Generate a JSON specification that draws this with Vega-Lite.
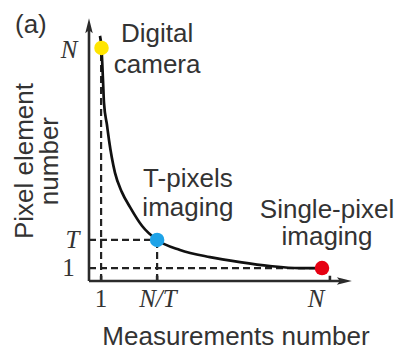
{
  "$schema": "https://vega.github.io/schema/vega-lite/v6.json",
  "width": 263,
  "height": 263,
  "autosize": {"type": "none"},
  "padding": {"left": 89, "top": 18, "right": 46, "bottom": 71},
  "background": "white",
  "config": {"view": {"stroke": null}},
  "datasets": {
    "curve": [
      {"x": 4.18, "y": 93.2}, {"x": 4.75, "y": 88.6}, {"x": 5.32, "y": 76.4},
      {"x": 5.7, "y": 67.7}, {"x": 6.84, "y": 59.3}, {"x": 7.6, "y": 53.6},
      {"x": 9.89, "y": 41.1}, {"x": 12.5, "y": 33.8}, {"x": 15.6, "y": 28.1},
      {"x": 20.2, "y": 20.9}, {"x": 25.9, "y": 15.6}, {"x": 34.6, "y": 11.8},
      {"x": 46.0, "y": 9.1}, {"x": 57.4, "y": 7.2}, {"x": 68.8, "y": 5.7},
      {"x": 80.2, "y": 4.9}, {"x": 88.6, "y": 4.9}
    ],
    "points": [
      {"name": "Digital camera", "x": 4.75, "y": 88.6},
      {"name": "T-pixels imaging", "x": 25.9, "y": 15.6},
      {"name": "Single-pixel imaging", "x": 88.6, "y": 4.9}
    ],
    "dashes": [
      {"x": 4.6, "y": 0, "x2": 4.6, "y2": 88.6},
      {"x": 0, "y": 15.6, "x2": 25.9, "y2": 15.6},
      {"x": 25.9, "y": 0, "x2": 25.9, "y2": 15.6},
      {"x": 0, "y": 4.9, "x2": 88.6, "y2": 4.9}
    ],
    "axes": [
      {"x": 0, "y": 0, "x2": 0, "y2": 96},
      {"x": 0, "y": 0, "x2": 96, "y2": 0},
      {"x": 4.6, "y": 0, "x2": 4.6, "y2": 2},
      {"x": 25.9, "y": 0, "x2": 25.9, "y2": 2},
      {"x": 91.6, "y": 0, "x2": 91.6, "y2": 2}
    ],
    "notes": [
      {"text": "Digital", "x": 25.9, "y": 90.9},
      {"text": "camera", "x": 25.9, "y": 79.1},
      {"text": "T-pixels", "x": 37.6, "y": 35.7},
      {"text": "imaging", "x": 37.6, "y": 24.7},
      {"text": "Single-pixel", "x": 90.5, "y": 24.0},
      {"text": "imaging", "x": 90.5, "y": 13.7},
      {"text": "(a)", "x": -22.1, "y": 94.3},
      {"text": "Measurements number", "x": 55.9, "y": -24.3}
    ],
    "ytitle": [
      {"text": "Pixel element", "x": -21.3, "y": 45.6},
      {"text": "number", "x": -11.8, "y": 45.6}
    ],
    "italic": [
      {"text": "N", "x": -7.6, "y": 87.8},
      {"text": "T", "x": -6.3, "y": 15.6},
      {"text": "N/T", "x": 26.2, "y": -6.8},
      {"text": "N", "x": 86.3, "y": -6.8}
    ],
    "ones": [
      {"text": "1", "x": -7.8, "y": 4.9},
      {"text": "1", "x": 4.6, "y": -6.8}
    ]
  },
  "layer": [
    {
      "data": {"name": "dashes"},
      "mark": {"type": "rule", "strokeDash": [7, 4], "strokeWidth": 2.2, "color": "#222222"},
      "encoding": {
        "x": {"field": "x", "type": "quantitative", "scale": {"domain": [0, 100]}, "axis": null},
        "y": {"field": "y", "type": "quantitative", "scale": {"domain": [0, 100]}, "axis": null},
        "x2": {"field": "x2"},
        "y2": {"field": "y2"}
      }
    },
    {
      "data": {"name": "axes"},
      "mark": {"type": "rule", "strokeWidth": 2.6, "color": "#2b2b2b"},
      "encoding": {
        "x": {"field": "x", "type": "quantitative", "scale": {"domain": [0, 100]}, "axis": null},
        "y": {"field": "y", "type": "quantitative", "scale": {"domain": [0, 100]}, "axis": null},
        "x2": {"field": "x2"},
        "y2": {"field": "y2"}
      }
    },
    {
      "data": {"values": [{"x": 0, "y": 97.1}]},
      "mark": {"type": "point", "shape": "M0,-1L0.5,1L0,0.6L-0.5,1Z", "size": 225, "filled": true, "color": "#2b2b2b", "opacity": 1},
      "encoding": {
        "x": {"field": "x", "type": "quantitative", "scale": {"domain": [0, 100]}, "axis": null},
        "y": {"field": "y", "type": "quantitative", "scale": {"domain": [0, 100]}, "axis": null}
      }
    },
    {
      "data": {"values": [{"x": 97.1, "y": 0}]},
      "mark": {"type": "point", "shape": "M0,-1L0.5,1L0,0.6L-0.5,1Z", "size": 225, "filled": true, "color": "#2b2b2b", "opacity": 1, "angle": 90},
      "encoding": {
        "x": {"field": "x", "type": "quantitative", "scale": {"domain": [0, 100]}, "axis": null},
        "y": {"field": "y", "type": "quantitative", "scale": {"domain": [0, 100]}, "axis": null}
      }
    },
    {
      "data": {"name": "curve"},
      "mark": {"type": "line", "interpolate": "monotone", "strokeWidth": 2.7, "color": "#111111"},
      "encoding": {
        "x": {"field": "x", "type": "quantitative", "scale": {"domain": [0, 100]}, "axis": null},
        "y": {"field": "y", "type": "quantitative", "scale": {"domain": [0, 100]}, "axis": null}
      }
    },
    {
      "data": {"name": "points"},
      "mark": {"type": "point", "filled": true, "size": 210, "opacity": 1},
      "encoding": {
        "x": {"field": "x", "type": "quantitative", "scale": {"domain": [0, 100]}, "axis": null},
        "y": {"field": "y", "type": "quantitative", "scale": {"domain": [0, 100]}, "axis": null},
        "color": {
          "field": "name", "type": "nominal", "legend": null,
          "scale": {"domain": ["Digital camera", "T-pixels imaging", "Single-pixel imaging"], "range": ["#ffe500", "#1ea3e8", "#e60012"]}
        }
      }
    },
    {
      "data": {"name": "notes"},
      "mark": {"type": "text", "font": "Liberation Sans", "fontSize": 26, "color": "#333333", "align": "center", "baseline": "alphabetic"},
      "encoding": {
        "x": {"field": "x", "type": "quantitative", "scale": {"domain": [0, 100]}, "axis": null},
        "y": {"field": "y", "type": "quantitative", "scale": {"domain": [0, 100]}, "axis": null},
        "text": {"field": "text"}
      }
    },
    {
      "data": {"name": "ytitle"},
      "mark": {"type": "text", "font": "Liberation Sans", "fontSize": 26, "color": "#333333", "align": "center", "baseline": "alphabetic", "angle": 270},
      "encoding": {
        "x": {"field": "x", "type": "quantitative", "scale": {"domain": [0, 100]}, "axis": null},
        "y": {"field": "y", "type": "quantitative", "scale": {"domain": [0, 100]}, "axis": null},
        "text": {"field": "text"}
      }
    },
    {
      "data": {"name": "italic"},
      "mark": {"type": "text", "font": "Liberation Serif", "fontStyle": "italic", "fontSize": 25, "color": "#333333", "align": "center", "baseline": "middle"},
      "encoding": {
        "x": {"field": "x", "type": "quantitative", "scale": {"domain": [0, 100]}, "axis": null},
        "y": {"field": "y", "type": "quantitative", "scale": {"domain": [0, 100]}, "axis": null},
        "text": {"field": "text"}
      }
    },
    {
      "data": {"name": "ones"},
      "mark": {"type": "text", "font": "Liberation Serif", "fontSize": 25, "color": "#333333", "align": "center", "baseline": "middle"},
      "encoding": {
        "x": {"field": "x", "type": "quantitative", "scale": {"domain": [0, 100]}, "axis": null},
        "y": {"field": "y", "type": "quantitative", "scale": {"domain": [0, 100]}, "axis": null},
        "text": {"field": "text"}
      }
    }
  ]
}
